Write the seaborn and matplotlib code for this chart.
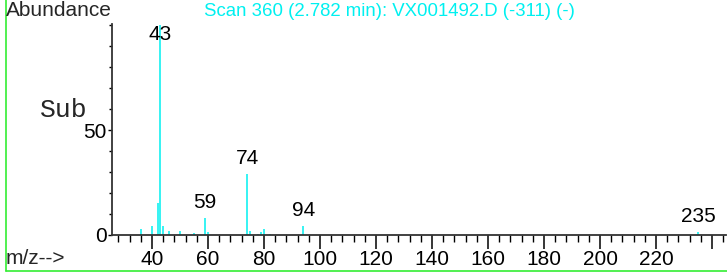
"""Mass spectrum of scan 360, redrawn from a ChemStation print."""

import matplotlib
matplotlib.use("Agg")
import matplotlib.pyplot as plt
from matplotlib.lines import Line2D
import seaborn as sns

# m/z values and relative abundance
mz = [36, 40, 42, 43, 44, 46, 50, 55, 59, 60, 74, 75, 78, 79, 80, 82, 94, 235]
abundance = [3.0, 4.3, 15.3, 100.0, 4.3, 2.0, 1.8, 0.8, 8.0, 1.3, 29.0, 2.0,
             0.6, 1.3, 2.8, 0.5, 4.3, 1.5]
labelled_peaks = [43, 59, 74, 94, 235]
x_ticks = [40, 60, 80, 100, 120, 140, 160, 180, 200, 220, 240]
x_tick_labels = ["40", "60", "80", "100", "120", "140", "160", "180", "200", "220", ""]
y_ticks = [0, 50]

title = "Scan 360 (2.782 min): VX001492.D (-311) (-)"

sns.set_style("white")
plt.rcParams["font.family"] = ["Liberation Sans", "DejaVu Sans"]

cyan = "#00f0f0"
green = "#33ee33"

fig = plt.figure(figsize=(7.27, 2.73), dpi=100)
ax = fig.add_axes([112 / 727, 38 / 273, 614 / 727, 211 / 273])

ax.vlines(mz, 0, abundance, color=cyan, linewidth=1.1)

for m, a in zip(mz, abundance):
    if m in labelled_peaks:
        ax.text(m, min(a + 2.8, 91), str(m), ha="center", va="bottom",
                fontsize=15, color="black")

ax.set_xlim(25.7, 245)
ax.set_ylim(0, 100.5)
ax.set_xticks(x_ticks)
ax.set_xticklabels(x_tick_labels)
ax.set_xticks(range(28, 245, 4), minor=True)
ax.set_yticks(y_ticks)
ax.set_yticks(range(10, 101, 10), minor=True)

sns.despine(ax=ax)
for side in ["left", "bottom"]:
    ax.spines[side].set_color("#333333")
    ax.spines[side].set_linewidth(1.3)

ax.tick_params(axis="x", which="major", direction="out", length=10, width=1.1,
               colors="black", labelsize=15, pad=1, bottom=True)
ax.tick_params(axis="x", which="minor", direction="out", length=5, width=1.0,
               colors="black", bottom=True)
ax.tick_params(axis="y", which="major", direction="out", length=3, width=1.0,
               colors="black", labelsize=15, pad=1, left=True)
ax.tick_params(axis="y", which="minor", direction="out", length=2, width=1.0,
               colors="black", left=True)

fig.text(6 / 727, 1 - 10 / 273, "Abundance", ha="left", va="center", fontsize=15)
fig.text(204 / 727, 1 - 12 / 273, title, ha="left", va="center", fontsize=13.4,
         color=cyan)
fig.text(40 / 727, 1 - 110 / 273, "Sub", ha="left", va="center", fontsize=19,
         family="Liberation Mono")
fig.text(6 / 727, 1 - 259 / 273, "m/z-->", ha="left", va="center", fontsize=15)

# green frame on the left and bottom edges
fig.add_artist(Line2D([6 / 727, 6 / 727], [2 / 273, 1], color=green, linewidth=1.2,
                      transform=fig.transFigure))
fig.add_artist(Line2D([6 / 727, 1], [2 / 273, 2 / 273], color=green, linewidth=1.2,
                      transform=fig.transFigure))

fig.savefig("out.png", dpi=100)
